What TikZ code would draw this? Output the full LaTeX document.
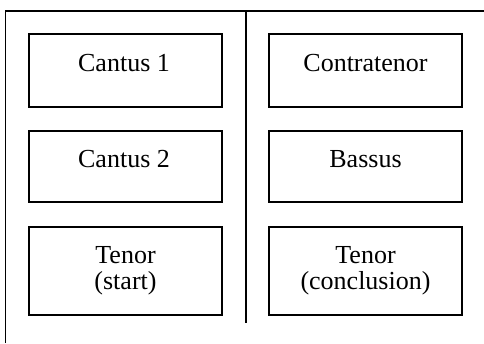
\documentclass[tikz,border=0pt]{standalone}
\usepackage{fontspec}
\setmainfont{Liberation Serif}
\begin{document}
\begin{tikzpicture}[x=1pt,y=-1pt,
  voice/.style={draw=black,line width=2pt,rectangle,minimum width=193pt,minimum height=73pt,inner sep=0pt},
  vtext/.style={anchor=base,inner sep=0pt,font=\fontsize{26}{30}\selectfont,align=center},
  frame/.style={line width=1.6pt}]
\useasboundingbox (0,0) rectangle (484,343);
\coordinate (tl) at (5.5,11);
\coordinate (tr) at (484,11);
\coordinate (bl) at (5.5,343);
\coordinate (mt) at (246,11);
\coordinate (mb) at (246,323);
\draw[frame] (bl) -- (tl) -- (tr);
\draw[frame] (mt) -- (mb);
\node[voice] (c1) at (125,70.5) {};
\node[voice] (ct) at (365.5,70.5) {};
\node[voice,minimum height=71pt] (c2) at (125,166.5) {};
\node[voice,minimum height=71pt] (bs) at (365.5,166.5) {};
\node[voice,minimum height=88pt] (ts) at (125.5,271) {};
\node[voice,minimum height=88pt] (tc) at (365.5,271) {};
\node[vtext] (t1) at (124,71) {Cantus 1};
\node[vtext] (t2) at (365.5,71) {Contratenor};
\node[vtext] (t3) at (124,167) {Cantus 2};
\node[vtext] (t4) at (365.5,167) {Bassus};
\node[vtext] (t5) at (125.5,263) {Tenor};
\node[vtext] (t6) at (125.5,289) {(start)};
\node[vtext] (t7) at (365.5,263) {Tenor};
\node[vtext] (t8) at (365.5,289) {(conclusion)};
\end{tikzpicture}
\end{document}
